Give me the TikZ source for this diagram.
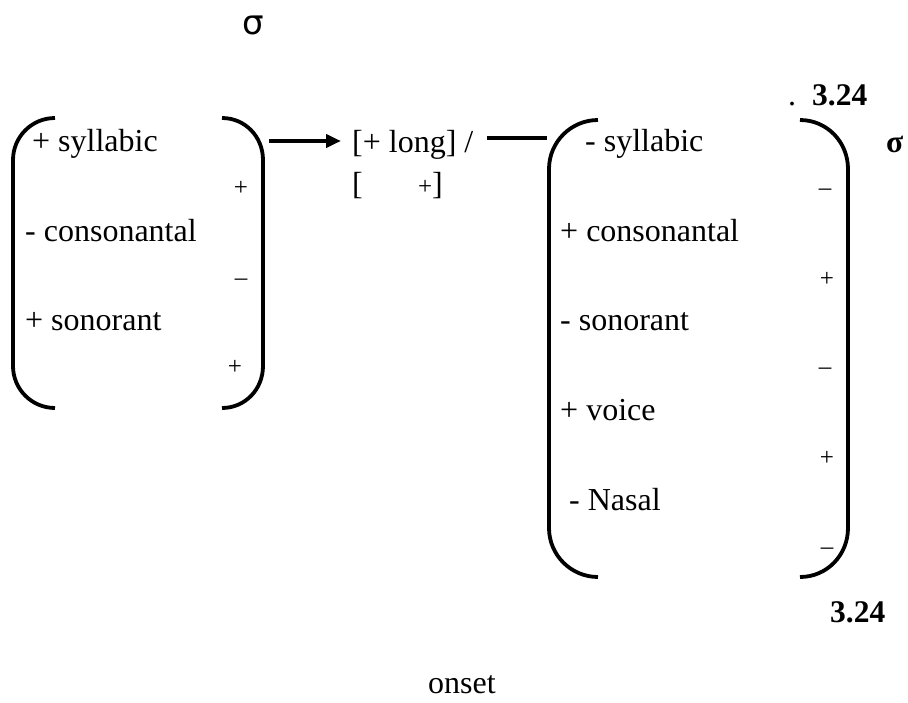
\documentclass[tikz,border=0pt]{standalone}
\usepackage{fontspec}
\setmainfont{Liberation Serif}
\newfontfamily\sigmafont{DejaVu Sans}
\usetikzlibrary{arrows.meta}
\begin{document}
\begin{tikzpicture}[x=1pt,y=-1pt,
  txt/.style={inner sep=0pt,anchor=base west,font=\fontsize{32}{32}\selectfont},
  sgn/.style={inner sep=0pt,anchor=base,font=\fontsize{25}{25}\selectfont},
  brk/.style={line width=3.8pt},
  bld/.style={inner sep=0pt,anchor=base west,font=\fontsize{31.5}{31.5}\selectfont\bfseries}]
\useasboundingbox (0,0) rectangle (908,702);
% top sigma
\node[inner sep=0pt,font=\fontsize{34}{34}\sigmafont] (sigtop) at (253,25) {σ};
% left matrix brackets
\draw[brk] (55,118) .. controls (31.8,118) and (13,136.8) .. (13,160) -- (13,366) .. controls (13,389.2) and (31.8,408) .. (55,408);
\draw[brk] (222,118) .. controls (245.2,118) and (263,136.8) .. (263,160) -- (263,366) .. controls (263,389.2) and (245.2,408) .. (222,408);
\node[txt] (l1) at (32,151) {+ syllabic};
\node[sgn] (ls1) at (241,195) {+};
\node[txt] (l2) at (25,241) {- consonantal};
\node[sgn] (ls2) at (241,285) {–};
\node[txt] (l3) at (25,330) {+ sonorant};
\node[sgn] (ls3) at (235,374) {+};
% arrow
\coordinate (astart) at (269,141);
\coordinate (aend) at (341,141);
\draw[line width=4pt,-{Triangle[length=15pt,width=13pt]}] (astart) -- (aend);
\node[txt] (long) at (352,152) {[+ long] /};
\node[txt] (ob) at (352,194) {[};
\node[sgn,anchor=base west] (op) at (418,194) {+};
\node[txt] (cb) at (432,194) {]};
% environment line
\coordinate (ls) at (487,138);
\coordinate (le) at (547,138);
\draw[line width=4pt] (ls) -- (le);
% right matrix brackets
\draw[brk] (598,120) .. controls (571,120) and (549,142) .. (549,169) -- (549,528) .. controls (549,555) and (571,577) .. (598,577);
\draw[brk] (800,120) .. controls (827,120) and (848,142) .. (848,169) -- (848,528) .. controls (848,555) and (827,577) .. (800,577);
\node[txt] (r1) at (585,151) {- syllabic};
\node[sgn] (rs1) at (825,195) {–};
\node[txt] (r2) at (560,241) {+ consonantal};
\node[sgn] (rs2) at (827,286) {+};
\node[txt] (r3) at (560,330) {- sonorant};
\node[sgn] (rs3) at (825,374) {–};
\node[txt] (r4) at (560,420) {+ voice};
\node[sgn] (rs4) at (827,465) {+};
\node[txt] (r5) at (569,510) {- Nasal};
\node[sgn] (rs5) at (827,554) {–};
% labels
\node[txt] (dot) at (788,105) {.};
\node[bld] (num1) at (812,105) {3.24};
\node[bld] (sigr) at (886,152) {σ};
\node[bld] (num2) at (830,622) {3.24};
\node[txt] (onset) at (428,693) {onset};
\end{tikzpicture}
\end{document}
